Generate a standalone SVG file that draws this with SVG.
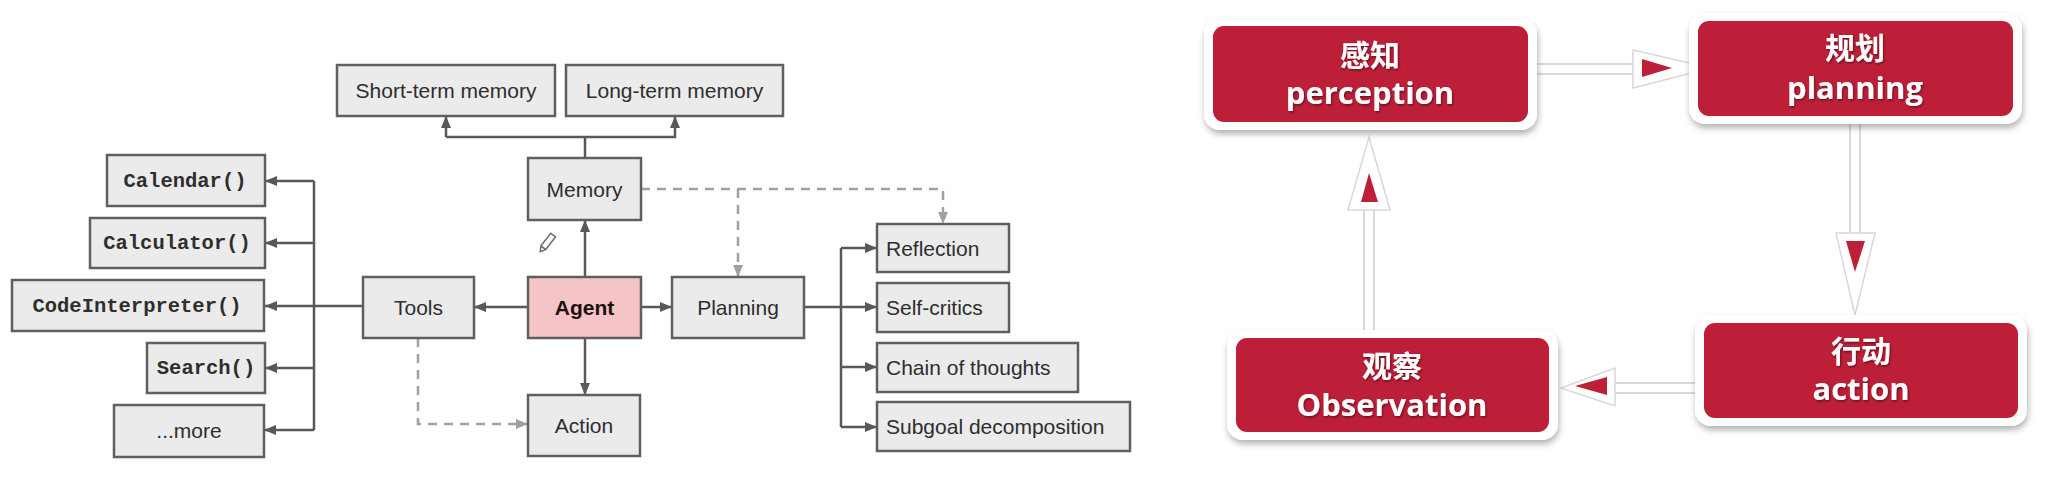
<svg xmlns="http://www.w3.org/2000/svg" width="2060" height="498" viewBox="0 0 2060 498">
<style>
.box{fill:#ebebeb;stroke:#5f5f5f;stroke-width:2.5}
.agent{fill:#f4c4c6;stroke:#5f5f5f;stroke-width:2.5}
.lbl{font-family:"Liberation Sans",Arial,sans-serif;font-size:21px;fill:#2e2e2e}
.c{text-anchor:middle}
.b{font-weight:bold;fill:#1e1010}
.mono{font-family:"Liberation Mono","Courier New",monospace;font-size:20.5px;font-weight:bold;fill:#2e2e2e;text-anchor:middle}
.ln{fill:none;stroke:#585858;stroke-width:2.5}
.ar{fill:none;stroke:#585858;stroke-width:2.5;marker-end:url(#ah)}
.da{fill:none;stroke:#a0a0a0;stroke-width:2.5;stroke-dasharray:9 7;marker-end:url(#ahd)}
.outer{fill:#ffffff;filter:url(#sh)}
.red{fill:#be1f38}
.zh{font-family:"Noto Sans CJK SC",sans-serif;font-size:30px;font-weight:bold;fill:#ffffff;text-anchor:middle;filter:url(#tsh)}
.en{font-family:"Open Sans","Noto Sans",sans-serif;font-size:31px;font-weight:bold;fill:#ffffff;text-anchor:middle;filter:url(#tsh)}
.shaftS{stroke:#dadada;stroke-width:12;fill:none}
.shaft{stroke:#ffffff;stroke-width:8;fill:none}
.headO{fill:#ffffff;stroke:#d8d8d8;stroke-width:1.5}
.headI{fill:#be1f38}
</style>
<defs>
<marker id="ah" viewBox="0 0 12 10" refX="12" refY="5" markerWidth="12" markerHeight="10" markerUnits="userSpaceOnUse" orient="auto">
<path d="M0,0 L12,5 L0,10 z" fill="#585858"/>
</marker>
<marker id="ahd" viewBox="0 0 12 10" refX="12" refY="5" markerWidth="12" markerHeight="10" markerUnits="userSpaceOnUse" orient="auto">
<path d="M0,0 L12,5 L0,10 z" fill="#a0a0a0"/>
</marker>
<filter id="sh" x="-10%" y="-20%" width="120%" height="150%">
<feDropShadow dx="1" dy="4" stdDeviation="3" flood-color="#000" flood-opacity="0.3"/>
</filter>
<filter id="tsh" x="-10%" y="-20%" width="120%" height="150%">
<feDropShadow dx="1" dy="1.5" stdDeviation="0.8" flood-color="#000" flood-opacity="0.45"/>
</filter>
</defs>
<rect width="2060" height="498" fill="#ffffff"/>

<g id="connectors">
<path class="ln" d="M585,158 V137"/>
<path class="ar" d="M446,137 H675 V116"/>
<path class="ar" d="M446,137 V116"/>
<path class="ar" d="M585,277 V220"/>
<path class="ar" d="M528,307 H474"/>
<path class="ar" d="M641,307 H672"/>
<path class="ar" d="M585,338 V395"/>
<path class="ar" d="M363,306 H265"/>
<path class="ln" d="M314,181 V430"/>
<path class="ar" d="M314,181 H265"/>
<path class="ar" d="M314,243 H265"/>
<path class="ar" d="M314,368 H265"/>
<path class="ar" d="M314,430 H264"/>
<path class="ln" d="M804,307 H841"/>
<path class="ln" d="M841,248 V427"/>
<path class="ar" d="M841,248 H877"/>
<path class="ar" d="M841,307 H877"/>
<path class="ar" d="M841,367 H877"/>
<path class="ar" d="M841,427 H877"/>
<path class="da" d="M641,189 H943 V224"/>
<path class="da" d="M738,189 V277"/>
<path class="da" d="M418,338 V424 H528"/>

<g id="arrow-perception-planning">
<path class="shaftS" d="M1522,69 H1637"/>
<path class="shaft" d="M1522,69 H1637"/>
<polygon class="headO" points="1633,50 1711,68 1633,88"/>
<polygon class="headI" points="1642,59 1672,68 1642,77"/>
</g>
<g id="arrow-planning-action">
<path class="shaftS" d="M1855,113 V236"/>
<path class="shaft" d="M1855,113 V236"/>
<polygon class="headO" points="1836,233 1875,233 1855,315"/>
<polygon class="headI" points="1846,241 1865,241 1855,272"/>
</g>
<g id="arrow-action-observation">
<path class="shaftS" d="M1738,388 H1611"/>
<path class="shaft" d="M1738,388 H1611"/>
<polygon class="headO" points="1615,368 1615,406 1561,388"/>
<polygon class="headI" points="1607,377 1607,395 1575,386"/>
</g>
<g id="arrow-observation-perception">
<path class="shaftS" d="M1369,336 V206"/>
<path class="shaft" d="M1369,336 V206"/>
<polygon class="headO" points="1348,210 1390,210 1369,137"/>
<polygon class="headI" points="1361,202 1378,202 1369,173"/>
</g>
</g>

<g id="short-term-memory"><rect class="box" x="337" y="65" width="218" height="51"/><text class="lbl c" x="446" y="98">Short-term memory</text></g>
<g id="long-term-memory"><rect class="box" x="566" y="65" width="217" height="51"/><text class="lbl c" x="674.5" y="98">Long-term memory</text></g>
<g id="memory"><rect class="box" x="528" y="158" width="113" height="62"/><text class="lbl c" x="584.5" y="196.5">Memory</text></g>
<g id="tools"><rect class="box" x="363" y="277" width="111" height="61"/><text class="lbl c" x="418.5" y="315">Tools</text></g>
<g id="agent"><rect class="agent" x="528" y="277" width="113" height="61"/><text class="lbl c b" x="584.5" y="315">Agent</text></g>
<g id="planning"><rect class="box" x="672" y="277" width="132" height="61"/><text class="lbl c" x="738" y="315">Planning</text></g>
<g id="action"><rect class="box" x="528" y="395" width="112" height="61"/><text class="lbl c" x="584" y="433">Action</text></g>

<g id="calendar"><rect class="box" x="107" y="155" width="158" height="51"/><text class="mono" x="185" y="187">Calendar()</text></g>
<g id="calculator"><rect class="box" x="90" y="218" width="175" height="50"/><text class="mono" x="177" y="249">Calculator()</text></g>
<g id="codeinterpreter"><rect class="box" x="12" y="280" width="252" height="51"/><text class="mono" x="137" y="312">CodeInterpreter()</text></g>
<g id="search"><rect class="box" x="147" y="343" width="118" height="50"/><text class="mono" x="206" y="374">Search()</text></g>
<g id="more"><rect class="box" x="114" y="405" width="150" height="52"/><text class="lbl c" x="189" y="438">...more</text></g>

<g id="reflection"><rect class="box" x="877" y="224" width="132" height="48"/><text class="lbl" x="886" y="255.5">Reflection</text></g>
<g id="self-critics"><rect class="box" x="877" y="283" width="132" height="49"/><text class="lbl" x="886" y="315">Self-critics</text></g>
<g id="chain-of-thoughts"><rect class="box" x="877" y="343" width="201" height="49"/><text class="lbl" x="886" y="375">Chain of thoughts</text></g>
<g id="subgoal-decomposition"><rect class="box" x="877" y="402" width="253" height="49"/><text class="lbl" x="886" y="434">Subgoal decomposition</text></g>

<g id="pencil" transform="translate(547,243) rotate(-52)" fill="none" stroke="#6a6a6a" stroke-width="1.5">
<path d="M-11,0 L-6,-3 H10 V3 H-6 Z M-6,-3 V3"/>
</g>

<g id="perception">
<rect class="outer" x="1204" y="18" width="333" height="112" rx="16"/>
<rect class="red" x="1213" y="26" width="315" height="96" rx="11"/>
<text class="zh" x="1370" y="66">感知</text>
<text class="en" x="1370" y="104">perception</text>
</g>
<g id="planning-cn">
<rect class="outer" x="1689" y="13" width="333" height="111" rx="16"/>
<rect class="red" x="1698" y="21" width="315" height="95" rx="11"/>
<text class="zh" x="1855" y="59">规划</text>
<text class="en" x="1855" y="99">planning</text>
</g>
<g id="action-cn">
<rect class="outer" x="1695" y="315" width="332" height="111" rx="16"/>
<rect class="red" x="1704" y="323" width="314" height="95" rx="11"/>
<text class="zh" x="1861" y="362">行动</text>
<text class="en" x="1861" y="400">action</text>
</g>
<g id="observation">
<rect class="outer" x="1227" y="330" width="331" height="110" rx="16"/>
<rect class="red" x="1236" y="338" width="313" height="94" rx="11"/>
<text class="zh" x="1392" y="377">观察</text>
<text class="en" x="1392" y="416">Observation</text>
</g>
</svg>
